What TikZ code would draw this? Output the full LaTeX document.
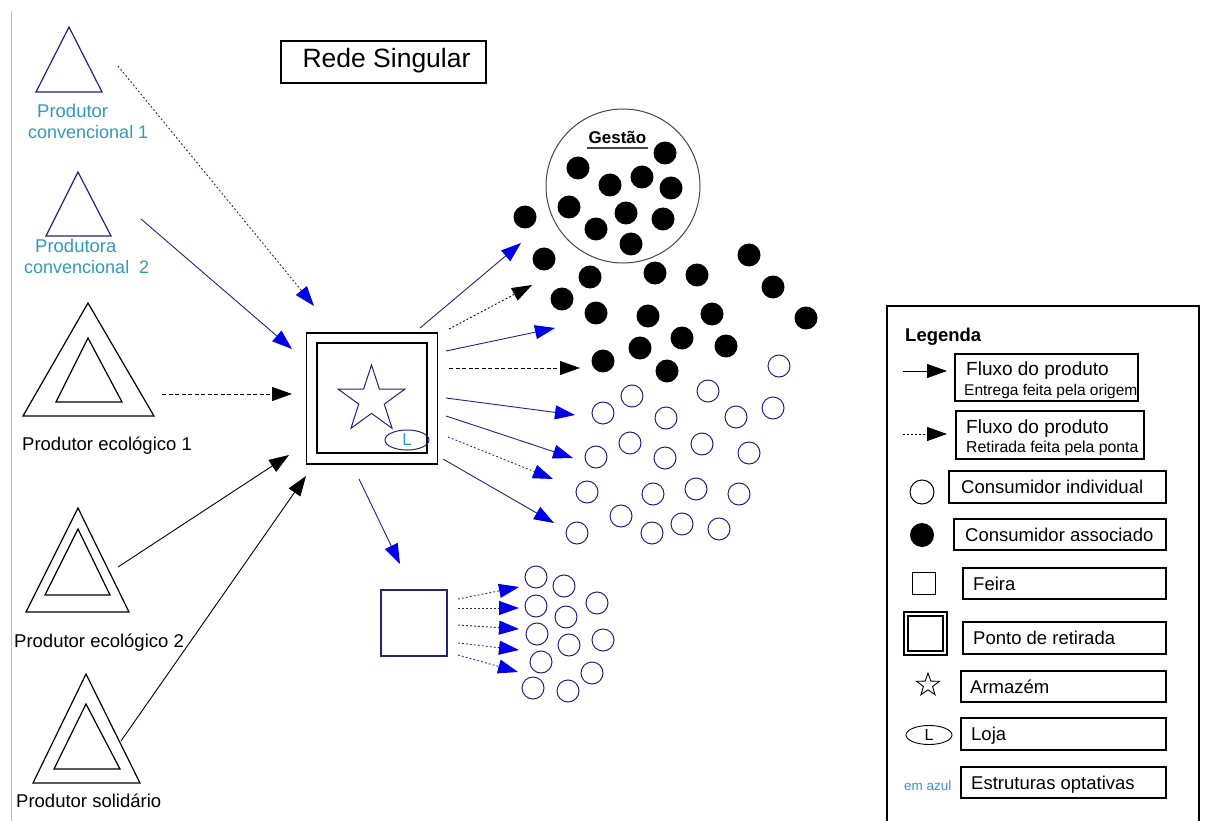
\documentclass[tikz,border=0pt]{standalone}
\usepackage{fontspec}
\setmainfont{Liberation Sans}
\usetikzlibrary{arrows.meta,shapes.geometric}
\newcommand\fsz[1]{\fontsize{#1pt}{#1pt}\selectfont}
\definecolor{navy}{RGB}{35,35,125}
\definecolor{hblue}{RGB}{0,0,230}
\definecolor{tealtxt}{RGB}{51,153,187}
\definecolor{bordgray}{RGB}{190,190,190}
\definecolor{ggray}{RGB}{70,70,70}
\newcommand\starshape[4]{(#1,#2) +(-90:#3) -- +(-54:#4) -- +(-18:#3) -- +(18:#4) -- +(54:#3) -- +(90:#4) -- +(126:#3) -- +(162:#4) -- +(198:#3) -- +(234:#4) -- cycle}
\begin{document}
\begin{tikzpicture}[x=1pt,y=-1pt,
  lbl/.style={inner sep=0pt,anchor=base west,font=\fsz{18.5}},
  tlbl/.style={lbl,text=tealtxt},
  bhead/.style={-{Triangle[length=20pt,width=14pt]}},
  uhead/.style={-{Triangle[length=20pt,width=14pt,color=hblue]}},
  dsh/.style={dash pattern=on 4pt off 2.5pt},
  dtt/.style={dash pattern=on 1.8pt off 2.2pt},
  conn/.style={line width=0.9pt},
  lbox/.style={draw,line width=1.1pt,inner sep=0pt},
  tri/.style={line width=1.2pt},
  dot/.style={fill=black},
  ocirc/.style={draw=navy,line width=1pt}
]
\useasboundingbox (0,0) rectangle (1205,821);
\fill[white] (0,0) rectangle (1205,821);

% left border
\draw[bordgray,line width=1pt] (11,11) -- (11,821);

% title
\node[lbox,minimum width=205pt,minimum height=42pt] (titlebox) at (383.5,62) {};
\node[inner sep=0pt,anchor=base,font=\fsz{26.5}] (title) at (386.5,68) {Rede Singular};

% producers
\draw[navy,tri] (69,27) -- (102,92) -- (36,92) -- cycle;
\node[tlbl] (pc1a) at (37,118) {Produtor};
\node[tlbl,font=\fsz{18}] (pc1b) at (28,139) {convencional 1};

\draw[navy,tri] (78,172) -- (111,236) -- (46,236) -- cycle;
\node[tlbl] (pc2a) at (35,252) {Produtora};
\node[tlbl,font=\fsz{18}] (pc2b) at (24,273) {convencional\ \ 2};

\draw[tri] (88,303) -- (154,416) -- (23,416) -- cycle;
\draw[tri] (88,338) -- (122,402) -- (56,402) -- cycle;
\node[lbl] (pe1) at (22,450) {Produtor ecológico 1};

\draw[tri] (78,508) -- (129,612) -- (26,612) -- cycle;
\draw[tri] (78,529) -- (110,595) -- (45,595) -- cycle;
\node[lbl] (pe2) at (14,647) {Produtor ecológico 2};

\draw[tri] (86,674) -- (140,783) -- (33,783) -- cycle;
\draw[tri] (86,704) -- (120,769) -- (54,769) -- cycle;
\node[lbl] (ps) at (16,807) {Produtor solidário};

% central ponto de retirada
\node[draw,line width=1.2pt,minimum size=131pt,inner sep=0pt] (ponto) at (372,398.5) {};
\node[draw,line width=1.2pt,minimum size=110pt,inner sep=0pt] (pontoin) at (372,398) {};
\draw[navy,line width=1pt] \starshape{371.5}{400}{35}{13.4};
\node[draw=navy,line width=1pt,ellipse,minimum width=44pt,minimum height=20pt,inner sep=0pt,text=tealtxt,font=\fsz{17}] (loja) at (407,440) {L};

% feira
\node[draw=navy,line width=1.1pt,minimum size=66pt,inner sep=0pt] (feira) at (414,623) {};

% gestao
\node[draw=ggray,circle,line width=1pt,minimum size=154pt,inner sep=0pt] (gestao) at (623,186) {};
\node[inner sep=0pt,anchor=base,font=\bfseries\fsz{17}] (gtxt) at (617.5,144) {Gestão};
\draw[ggray,line width=1.2pt] (587,148) -- (648,148);

% associated consumers
\foreach \p in {(665,153),(578,168),(610,185),(642,177),(671,188),(569,207),(626,213),(663,219),(596,229),(631,244),
  (525,217),(544,259),(590,277),(655,273),(697,275),(749,255),(773,287),(562,299),(596,313),(648,316),(712,314),(806,318),(682,338),(726,346),(640,348),(603,361),(667,371)}
  \fill[dot] \p circle[radius=11.5];

% individual consumers
\foreach \p in {(779,366),(632,396),(708,391),(773,408),(603,413),(666,418),(736,417),(630,443),(702,444),(749,453),(596,457),(665,458),(587,492),(653,494),(696,489),(739,494),(621,516),(682,524),(719,529),(652,533),(577,533),
  (536,577),(564,586),(597,603),(536,606),(566,617),(537,634),(569,645),(603,640),(541,662),(592,673),(533,688),(568,691)}
  \draw[ocirc] \p circle[radius=11];

% arrow end points
\coordinate (a1s) at (118,66);  \coordinate (a1e) at (314,306);
\coordinate (a2s) at (141,219); \coordinate (a2e) at (292,349);
\coordinate (a3s) at (162,394); \coordinate (a3e) at (292,394);
\coordinate (a4s) at (118,567); \coordinate (a4e) at (289,455);
\coordinate (a5s) at (121,741); \coordinate (a5e) at (306,476);
\coordinate (b1s) at (420,328); \coordinate (b1e) at (521,243);
\coordinate (b2s) at (449,329); \coordinate (b2e) at (532,285);
\coordinate (b3s) at (446,351); \coordinate (b3e) at (555,328);
\coordinate (b4s) at (449,368); \coordinate (b4e) at (580,368);
\coordinate (b5s) at (446,398); \coordinate (b5e) at (575,415);
\coordinate (b6s) at (446,416); \coordinate (b6e) at (573,458);
\coordinate (b7s) at (448,437); \coordinate (b7e) at (553,479);
\coordinate (b8s) at (443,459); \coordinate (b8e) at (554,523);
\coordinate (b9s) at (359,479); \coordinate (b9e) at (400,564);
\coordinate (c1s) at (458,599); \coordinate (c1e) at (519,587);
\coordinate (c2s) at (458,608); \coordinate (c2e) at (519,608);
\coordinate (c3s) at (458,625); \coordinate (c3e) at (519,629);
\coordinate (c4s) at (458,643); \coordinate (c4e) at (519,650);
\coordinate (c5s) at (458,655); \coordinate (c5e) at (518,672);

% incoming
\draw[conn,navy,dtt,uhead] (a1s) -- (a1e);
\draw[conn,navy,uhead] (a2s) -- (a2e);
\draw[conn,dsh,bhead] (a3s) -- (a3e);
\draw[conn,bhead] (a4s) -- (a4e);
\draw[conn,bhead] (a5s) -- (a5e);
% outgoing
\draw[conn,navy,uhead] (b1s) -- (b1e);
\draw[conn,dtt,bhead] (b2s) -- (b2e);
\draw[conn,navy,uhead] (b3s) -- (b3e);
\draw[conn,dsh,bhead] (b4s) -- (b4e);
\draw[conn,navy,uhead] (b5s) -- (b5e);
\draw[conn,navy,uhead] (b6s) -- (b6e);
\draw[conn,navy,dtt,uhead] (b7s) -- (b7e);
\draw[conn,navy,uhead] (b8s) -- (b8e);
\draw[conn,navy,uhead] (b9s) -- (b9e);
% feira
\foreach \i in {1,...,5} \draw[conn,navy,dtt,uhead] (c\i s) -- (c\i e);

% legend
\draw[line width=1.2pt] (887,830) -- (887,306) -- (1199,306) -- (1199,830);
\node[lbl,font=\bfseries\fsz{18.5}] (leg) at (905,341) {Legenda};

\coordinate (l1s) at (903,371); \coordinate (l1e) at (947,371);
\coordinate (l2s) at (903,434); \coordinate (l2e) at (947,434);
\draw[conn,bhead] (l1s) -- (l1e);
\draw[conn,dtt,bhead] (l2s) -- (l2e);

\node[lbox,minimum width=183pt,minimum height=47pt] (lb1) at (1046.5,377.5) {};
\node[lbl,font=\fsz{19}] (lt1a) at (966,375) {Fluxo do produto};
\node[lbl,font=\fsz{15.5}] (lt1b) at (964,395) {Entrega feita pela origem};

\node[lbox,minimum width=188pt,minimum height=48pt] (lb2) at (1050,435) {};
\node[lbl,font=\fsz{19}] (lt2a) at (966,433) {Fluxo do produto};
\node[lbl,font=\fsz{15.8}] (lt2b) at (966,452) {Retirada feita pela ponta};

\draw[line width=1pt] (922,492) circle[radius=12];
\node[lbox,minimum width=217pt,minimum height=32pt] (lb3) at (1057.5,487) {};
\node[lbl] (lt3) at (961,493.5) {Consumidor individual};

\fill (922,535) circle[radius=12];
\node[lbox,minimum width=212pt,minimum height=31pt] (lb4) at (1060,534.5) {};
\node[lbl] (lt4) at (965,541) {Consumidor associado};

\node[draw,line width=1pt,minimum size=22.5pt,inner sep=0pt] (lsq) at (924,583.5) {};
\node[lbox,minimum width=203pt,minimum height=31pt] (lb5) at (1064.5,583.5) {};
\node[lbl] (lt5) at (973,590) {Feira};

\node[draw,line width=1.1pt,minimum size=43pt,inner sep=0pt] (ldsq) at (925.5,633.5) {};
\node[draw,line width=1.1pt,minimum size=35pt,inner sep=0pt] (ldsqin) at (925.5,633.5) {};
\node[lbox,minimum width=203pt,minimum height=32pt] (lb6) at (1064.5,638) {};
\node[lbl] (lt6) at (973,644.5) {Ponto de retirada};

\draw[line width=0.9pt] \starshape{928}{685}{12}{4.8};
\node[lbox,minimum width=205pt,minimum height=31pt] (lb7) at (1063.5,686.5) {};
\node[lbl] (lt7) at (970,693) {Armazém};

\node[draw,line width=0.9pt,ellipse,minimum width=46pt,minimum height=19pt,inner sep=0pt,font=\fsz{16}] (lell) at (929,735) {L};
\node[lbox,minimum width=205pt,minimum height=32pt] (lb8) at (1063.5,734) {};
\node[lbl] (lt8) at (971,740.5) {Loja};

\node[lbl,font=\fsz{13.5},text=tealtxt] (azul) at (904,790) {em azul};
\node[lbox,minimum width=205pt,minimum height=31pt] (lb9) at (1063.5,782.5) {};
\node[lbl] (lt9) at (971,789) {Estruturas optativas};
\end{tikzpicture}
\end{document}
